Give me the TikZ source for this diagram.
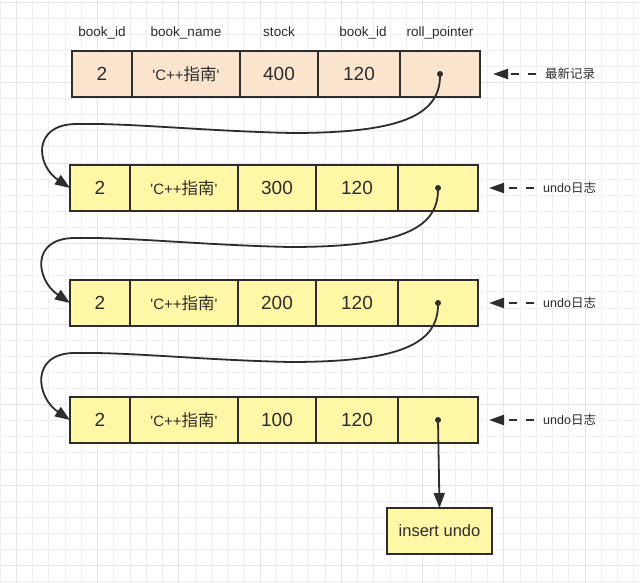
\documentclass[tikz,border=0pt]{standalone}
\usepackage{fontspec}
\setmainfont{Liberation Sans}
\newfontfamily\cjk{Noto Sans CJK SC}
\usepackage{xcolor}
\usepackage{tikz}
\usetikzlibrary{arrows.meta,positioning,calc}

\definecolor{peach}{RGB}{251,228,206}
\definecolor{undoyellow}{RGB}{255,247,166}
\definecolor{ink}{RGB}{45,45,45}
\definecolor{gridminor}{RGB}{238,238,238}
\definecolor{gridmajor}{RGB}{228,228,228}

\begin{document}
\begin{tikzpicture}[x=1pt,y=-1pt,
		cell/.style={draw=ink, line width=1.6pt, minimum height=46pt, inner sep=0pt, outer sep=0pt, text=ink, font=\fontsize{19}{22}\selectfont},
		header/.style={text=ink, text height=10pt, text depth=3pt, inner sep=3pt, font=\fontsize{13.5}{16}\selectfont},
		tag/.style={text=ink, anchor=west, inner sep=3pt, font=\fontsize{12.5}{15}\selectfont},
		link/.style={draw=ink, line width=1.8pt, -{Triangle[length=15pt,width=11pt]}},
		hint/.style={draw=ink, line width=2pt, dash pattern=on 8pt off 9pt, shorten <=6pt, -{Triangle[length=15pt,width=10pt]}}]
		\useasboundingbox (0,0) rectangle (640,583);
		\fill[white] (0,0) rectangle (640,583);

		% background grid
		\foreach \i in {0,...,39}
			\draw[gridminor, line width=0.8pt] (\i*16.25,0) -- (\i*16.25,583);
		\foreach \j in {0,...,36}
			\draw[gridminor, line width=0.8pt] (0,2+\j*16.1) -- (640,2+\j*16.1);
		\foreach \i in {1,6,...,36}
			\draw[gridmajor, line width=0.8pt] (\i*16.25,0) -- (\i*16.25,583);
		\foreach \j in {0,5,...,35}
			\draw[gridmajor, line width=0.8pt] (0,2+\j*16.1) -- (640,2+\j*16.1);

		% records
		\foreach \r/\y/\dx/\v/\c in {1/74/2/400/peach, 2/188/0/300/undoyellow, 3/303/0/200/undoyellow, 4/420/0/100/undoyellow} {
			\node[cell, fill=\c, minimum width=60pt] (id\r) at (100+\dx,\y) {2};
			\node[cell, fill=\c, minimum width=108pt, right=0pt of id\r] (name\r) {\fontsize{15}{17}\selectfont\textquotesingle C++{\cjk\fontsize{16.5}{17}\selectfont 指南}\textquotesingle};
			\node[cell, fill=\c, minimum width=78pt, right=0pt of name\r] (stock\r) {\v};
			\node[cell, fill=\c, minimum width=82pt, right=0pt of stock\r] (bid\r) {120};
			\node[cell, fill=\c, minimum width=80pt, right=0pt of bid\r] (ptr\r) {};
		}

		\node[header, above=8pt of id1] (h1) {book\_id};
		\node[header, above=8pt of name1] (h2) {book\_name};
		\node[header, above=8pt of stock1] (h3) {stock};
		\node[header, above=8pt of bid1, xshift=4pt] (h4) {book\_id};
		\node[header, above=8pt of ptr1] (h5) {roll\_pointer};

		% version chain
		\foreach \r/\n in {1/2,2/3,3/4} {
			\coordinate (low\r) at ($(stock\r.south)+(13,36)$);
			\coordinate (bend\r) at ($(id\r.south)+(-25,27)$);
			\draw[link] (ptr\r.center) .. controls +(1,41) and +(110,0) .. (low\r)
				.. controls +(-90,-2) and +(55,-1) .. (bend\r)
				.. controls +(-45,0) and +(-34,-23) .. (id\n.west);
		}

		\node[cell, fill=undoyellow, minimum width=105pt, font=\fontsize{16.5}{19}\selectfont] (ins) at (439.5,531) {insert undo};
		\draw[link] (ptr4.center) -- (ins.north);

		\foreach \r in {1,...,4}
			\fill[ink] (ptr\r.center) circle (3pt);

		% side labels
		\node[tag] (newest) at (542,74) {{\cjk 最新记录}};
		\node[tag] (undo2) at (540,188) {undo{\cjk 日志}};
		\node[tag] (undo3) at (540,303) {undo{\cjk 日志}};
		\node[tag] (undo4) at (540,420) {undo{\cjk 日志}};
		\draw[hint] (newest.west) -- ([xshift=13pt]ptr1.east);
		\draw[hint] (undo2.west) -- ([xshift=11pt]ptr2.east);
		\draw[hint] (undo3.west) -- ([xshift=11pt]ptr3.east);
		\draw[hint] (undo4.west) -- ([xshift=11pt]ptr4.east);
	\end{tikzpicture}
\end{document}
